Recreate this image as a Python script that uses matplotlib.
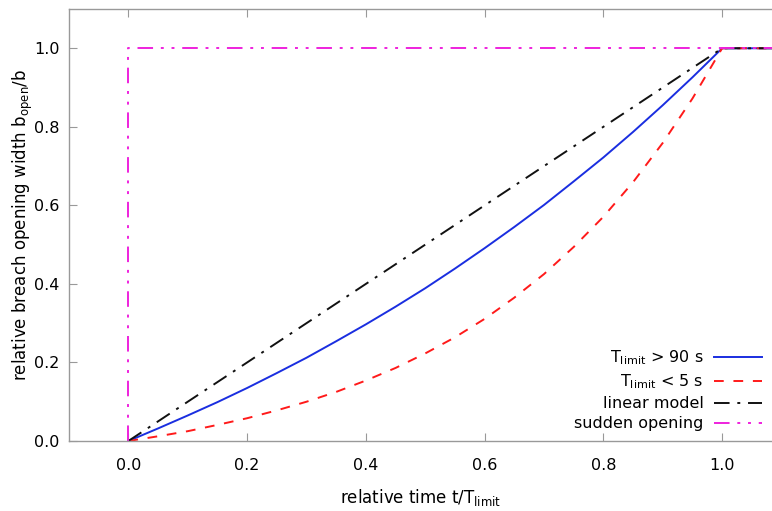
import matplotlib
matplotlib.use("Agg")
import matplotlib.pyplot as plt

# data
t_curve = [0.0, 0.05, 0.1, 0.15, 0.2, 0.25, 0.3, 0.35, 0.4, 0.45, 0.5,
           0.55, 0.6, 0.65, 0.7, 0.75, 0.8, 0.85, 0.9, 0.95, 1.0, 1.1]
b_slow = [0.0, 0.032, 0.065, 0.099, 0.135, 0.173, 0.212, 0.254, 0.297, 0.342, 0.389,
          0.439, 0.491, 0.545, 0.601, 0.661, 0.722, 0.787, 0.855, 0.926, 1.0, 1.0]
b_fast = [0.0, 0.012, 0.025, 0.041, 0.058, 0.078, 0.100, 0.125, 0.154, 0.186, 0.223,
          0.264, 0.311, 0.365, 0.425, 0.494, 0.571, 0.659, 0.759, 0.872, 1.0, 1.0]
t_linear = [0.0, 1.0, 1.1]
b_linear = [0.0, 1.0, 1.0]
t_sudden = [0.0, 0.0, 1.1]
b_sudden = [0.0, 1.0, 1.0]

labels = [r'$\mathregular{T_{limit}}$ > 90 s', r'$\mathregular{T_{limit}}$ < 5 s',
          'linear model', 'sudden opening']
xticks = [0.0, 0.2, 0.4, 0.6, 0.8, 1.0]
yticks = [0.0, 0.2, 0.4, 0.6, 0.8, 1.0]

plt.rcParams['font.family'] = ['DejaVu Sans']
fig = plt.figure(figsize=(7.72, 5.11), dpi=100)
ax = fig.add_axes([69/772, 1-441/511, 1-69/772, (441-9)/511])

ax.plot(t_curve, b_slow, color='#1a2ee0', lw=1.4, label=labels[0])
ax.plot(t_curve, b_fast, color='#ff1a1a', lw=1.4, linestyle=(0, (5, 5)), label=labels[1])
ax.plot(t_linear, b_linear, color='#111111', lw=1.4, linestyle=(0, (8, 4, 1.5, 4)), label=labels[2])
ax.plot(t_sudden, b_sudden, color='#ee22dd', lw=1.4, linestyle=(0, (8, 4, 1.5, 4, 1.5, 4)), label=labels[3])

ax.set_xlim(-0.1, 1.084)
ax.set_ylim(0.0, 1.1)
ax.set_xticks(xticks)
ax.set_yticks(yticks)
ax.set_xticklabels([f'{v:.1f}' for v in xticks])
ax.set_yticklabels([f'{v:.1f}' for v in yticks])

for side in ['left', 'top', 'bottom']:
    ax.spines[side].set_color('#999999')
    ax.spines[side].set_linewidth(1.0)
ax.spines['right'].set_visible(False)
ax.tick_params(axis='both', direction='in', length=6, color='#999999', labelsize=11.5,
               top=True, right=False)
ax.tick_params(axis='x', pad=12.5)
ax.tick_params(axis='y', pad=7)

ax.set_xlabel(r'relative time t/$\mathregular{T_{limit}}$', fontsize=12, labelpad=10)
ax.set_ylabel(r'relative breach opening width $\mathregular{b_{open}}$/b', fontsize=12, labelpad=-1)

leg = ax.legend(loc='lower right', bbox_to_anchor=(0.999, 0.0), frameon=False,
                markerfirst=False, fontsize=11.5, handlelength=3.0, handletextpad=0.65,
                labelspacing=0.32, borderaxespad=0.2)

fig.savefig('out.png', dpi=100)
